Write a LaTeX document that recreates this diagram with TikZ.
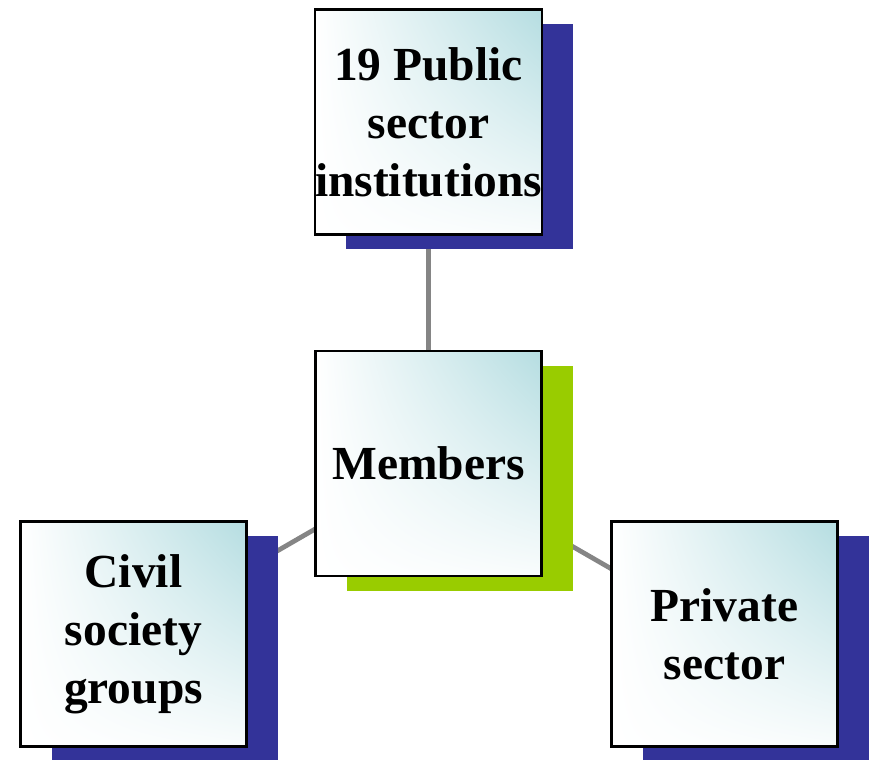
\documentclass[tikz,border=0pt]{standalone}
\usepackage{fontspec}
\setmainfont{Liberation Serif}
\usepackage{xcolor}
\usepackage{tikz}
\usetikzlibrary{shadows, shadings, backgrounds}

\definecolor{shadowblue}{HTML}{333399}
\definecolor{shadowgreen}{HTML}{99CC00}
\definecolor{boxcyan}{HTML}{B5DDE1}
\definecolor{linkgray}{HTML}{858585}

\begin{document}
\begin{tikzpicture}
		\tikzstyle{box} = [draw=black, line width=1.4pt, rectangle, minimum width=4.52cm, minimum height=4.5cm, inner sep=0pt, align=center, upper right=boxcyan, upper left=white, lower left=white, lower right=boxcyan!8, font=\fontsize{27}{33}\selectfont\bfseries]
		\tikzstyle{blueshade} = [drop shadow={shadow xshift=0.62cm, shadow yshift=-0.29cm, fill=shadowblue, opacity=1}]
		\tikzstyle{greenshade} = [drop shadow={shadow xshift=0.62cm, shadow yshift=-0.29cm, fill=shadowgreen, opacity=1}]
		\tikzstyle{link} = [draw=linkgray, line width=2.7pt]
		
		\useasboundingbox (0, 0) rectangle (17.42, -15.18);
		
		\node[box, blueshade] 	at (8.57, -2.44) 	(public) 	{19 Public\\sector\\institutions};
		\node[box, greenshade] 	at (8.57, -9.27) 	(members) 	{Members};
		\node[box, blueshade] 	at (2.67, -12.68) 	(civil) 	{Civil\\society\\groups};
		\node[box, blueshade] 	at (14.49, -12.68) 	(private) 	{Private\\sector};
		
		\begin{scope}[on background layer]
		\path[link]
		(members.center)	edge	(public.center)
		(members.center)	edge	(civil.center)
		(members.center)	edge	(private.center);
		\end{scope}
\end{tikzpicture}
\end{document}
